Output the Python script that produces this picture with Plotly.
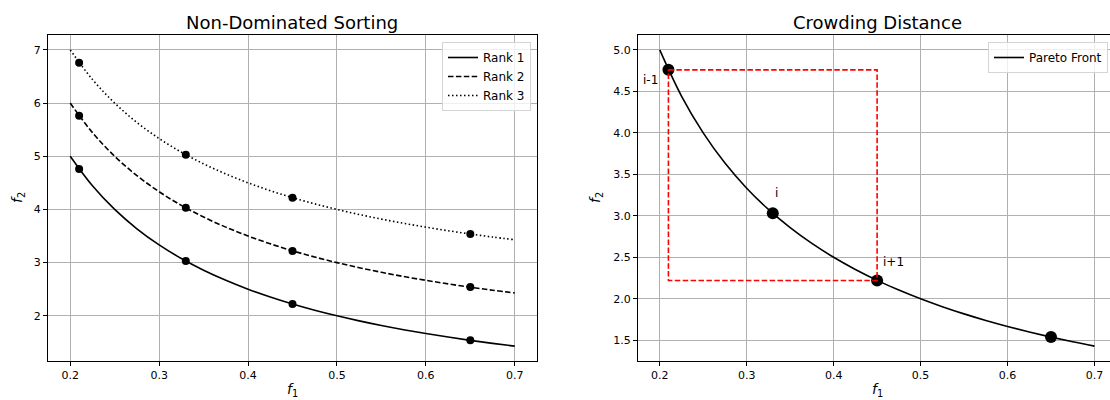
import plotly.graph_objects as go

# Objective-space curves sampled along f1
f1_curve = [0.200, 0.225, 0.250, 0.275, 0.300, 0.325, 0.350, 0.375, 0.400, 0.425, 0.450,
            0.475, 0.500, 0.525, 0.550, 0.575, 0.600, 0.625, 0.650, 0.675, 0.700]
rank1_curve = [5.000, 4.444, 4.000, 3.636, 3.333, 3.077, 2.857, 2.667, 2.500, 2.353, 2.222,
               2.105, 2.000, 1.905, 1.818, 1.739, 1.667, 1.600, 1.538, 1.481, 1.429]
rank2_curve = [6.000, 5.444, 5.000, 4.636, 4.333, 4.077, 3.857, 3.667, 3.500, 3.353, 3.222,
               3.105, 3.000, 2.905, 2.818, 2.739, 2.667, 2.600, 2.538, 2.481, 2.429]
rank3_curve = [7.000, 6.444, 6.000, 5.636, 5.333, 5.077, 4.857, 4.667, 4.500, 4.353, 4.222,
               4.105, 4.000, 3.905, 3.818, 3.739, 3.667, 3.600, 3.538, 3.481, 3.429]

# Solutions on each front
f1_points = [0.21, 0.33, 0.45, 0.65]
rank1_points = [4.76, 3.03, 2.22, 1.54]
rank2_points = [5.76, 4.03, 3.22, 2.54]
rank3_points = [6.76, 5.03, 4.22, 3.54]

# Crowding-distance neighbours (indices into the rank-1 points)
labels = ["i-1", "i", "i+1"]
label_x = [0.178, 0.330, 0.455]
label_y = [4.64, 3.27, 2.44]
prev_idx, next_idx = 0, 2

# Pixel geometry of the two panels
W, H = 1110, 400
L1, R1 = 48, 537
L2 = 638
TOP, BOT = 35, 361

def px_x(p):
    return p / W

def px_y(p):
    return 1 - p / H

FONT = "DejaVu Sans"
GRID = "#b0b0b0"

fig = go.Figure()

line_w = 1.6
fig.add_trace(go.Scatter(x=f1_curve, y=rank1_curve, mode="lines", name="Rank 1",
                         line=dict(color="black", width=line_w, shape="spline"),
                         xaxis="x", yaxis="y", legend="legend"))
fig.add_trace(go.Scatter(x=f1_curve, y=rank2_curve, mode="lines", name="Rank 2",
                         line=dict(color="black", width=line_w, dash="5.5px,2.4px", shape="spline"),
                         xaxis="x", yaxis="y", legend="legend"))
fig.add_trace(go.Scatter(x=f1_curve, y=rank3_curve, mode="lines", name="Rank 3",
                         line=dict(color="black", width=line_w, dash="1.5px,2.5px", shape="spline"),
                         xaxis="x", yaxis="y", legend="legend"))
for pts in (rank1_points, rank2_points, rank3_points):
    fig.add_trace(go.Scatter(x=f1_points, y=pts, mode="markers", showlegend=False,
                             marker=dict(color="black", size=8, line=dict(width=0)),
                             xaxis="x", yaxis="y"))

# Right panel: Pareto front with the crowding cuboid
fig.add_trace(go.Scatter(x=f1_curve, y=rank1_curve, mode="lines", name="Pareto Front",
                         line=dict(color="black", width=line_w, shape="spline"),
                         xaxis="x2", yaxis="y2", legend="legend2"))
fig.add_trace(go.Scatter(x=f1_points, y=rank1_points, mode="markers", showlegend=False,
                         marker=dict(color="black", size=12, line=dict(width=0)),
                         xaxis="x2", yaxis="y2"))
x0, x1 = f1_points[prev_idx], f1_points[next_idx]
y0, y1 = rank1_points[prev_idx], rank1_points[next_idx]
fig.add_trace(go.Scatter(x=[x0, x1, x1, x0, x0], y=[y0, y0, y1, y1, y0], mode="lines",
                         showlegend=False,
                         line=dict(color="#ff0000", width=line_w, dash="5.5px,2.4px"),
                         xaxis="x2", yaxis="y2"))

annotations = []
for t, lx, ly in zip(labels, label_x, label_y):
    annotations.append(dict(text=t, x=lx, y=ly, xref="x2", yref="y2", showarrow=False,
                            xanchor="left", yanchor="middle",
                            font=dict(family=FONT, size=12, color="black")))

# Panel titles and axis labels
right_edge = 1116
for text, cx in (("Non-Dominated Sorting", (L1 + R1) / 2),
                 ("Crowding Distance", (L2 + right_edge) / 2)):
    annotations.append(dict(text=text, x=px_x(cx), y=px_y(22.5), xref="paper", yref="paper",
                            showarrow=False, xanchor="center", yanchor="middle",
                            font=dict(family=FONT, size=18, color="black")))
for cx in ((L1 + R1) / 2, (L2 + right_edge) / 2):
    annotations.append(dict(text="<i>f</i><sub>1</sub>", x=px_x(cx), y=px_y(390),
                            xref="paper", yref="paper", showarrow=False,
                            xanchor="center", yanchor="middle",
                            font=dict(family=FONT, size=14, color="black")))
for cx in (18, 596):
    annotations.append(dict(text="<i>f</i><sub>2</sub>", x=px_x(cx), y=px_y(198),
                            xref="paper", yref="paper", showarrow=False, textangle=-90,
                            xanchor="center", yanchor="middle",
                            font=dict(family=FONT, size=14, color="black")))

axis_common = dict(showgrid=True, gridcolor=GRID, gridwidth=0.9, zeroline=False,
                   showline=True, linecolor="black", linewidth=0.9,
                   ticks="outside", ticklen=4, tickwidth=0.9, tickcolor="black",
                   tickfont=dict(family=FONT, size=11, color="black"))

x2_max = 0.2 + (W - 660) / 869.0

fig.update_layout(
    width=W, height=H,
    margin=dict(l=0, r=0, t=0, b=0),
    paper_bgcolor="white", plot_bgcolor="white",
    annotations=annotations,
    xaxis=dict(domain=[px_x(L1), px_x(R1)], range=[0.175, 0.725], anchor="y",
               tickvals=[0.2, 0.3, 0.4, 0.5, 0.6, 0.7], tickformat=".1f",
               mirror=True, **axis_common),
    yaxis=dict(domain=[px_y(BOT), px_y(TOP)], range=[1.15, 7.28], anchor="x",
               tickvals=[2, 3, 4, 5, 6, 7], mirror=True, **axis_common),
    xaxis2=dict(domain=[px_x(L2), 1.0], range=[0.175, x2_max], anchor="y2",
                tickvals=[0.2, 0.3, 0.4, 0.5, 0.6, 0.7], tickformat=".1f",
                mirror=True, **axis_common),
    yaxis2=dict(domain=[px_y(BOT), px_y(TOP)], range=[1.25, 5.18], anchor="x2",
                tickvals=[1.5, 2.0, 2.5, 3.0, 3.5, 4.0, 4.5, 5.0], tickformat=".1f",
                mirror=False, **axis_common),
    legend=dict(x=px_x(531), y=px_y(42), xanchor="right", yanchor="top",
                bgcolor="rgba(255,255,255,0.8)", bordercolor="#d5d5d5", borderwidth=1,
                font=dict(family=FONT, size=12, color="black"), tracegroupgap=0),
    legend2=dict(x=px_x(1108), y=px_y(42), xanchor="right", yanchor="top",
                 bgcolor="rgba(255,255,255,0.8)", bordercolor="#d5d5d5", borderwidth=1,
                 font=dict(family=FONT, size=12, color="black")),
    showlegend=True,
)

fig.write_html("out.html")
